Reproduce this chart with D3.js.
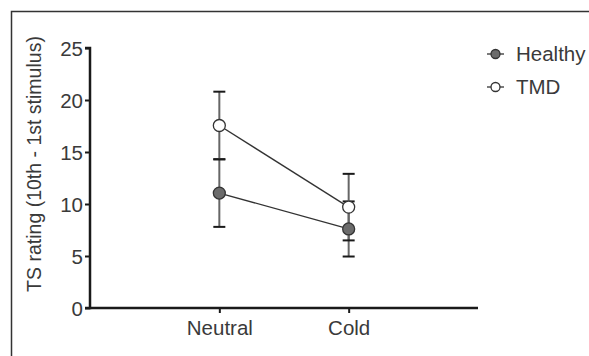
<!DOCTYPE html>
<html>
<head>
<meta charset="utf-8">
<script src="https://cdn.jsdelivr.net/npm/d3@7"></script>
<style>
  body { margin: 0; background: #fff; }
  text { font-family: "Liberation Sans", Arial, sans-serif; fill: #3a3a3a; }
</style>
</head>
<body>
<svg width="589" height="356"></svg>
<script>
var conditions = ["Neutral", "Cold"];
var groups = ["Healthy", "TMD"];
var healthyMean = [11.05, 7.6];
var healthyErr = [3.25, 2.65];
var tmdMean = [17.55, 9.7];
var tmdErr = [3.25, 3.2];
var yTicks = [0, 5, 10, 15, 20, 25];

var svg = d3.select("svg"),
    width = +svg.attr("width"),
    height = +svg.attr("height");

var series = [
  { name: groups[0], mean: healthyMean, err: healthyErr, fill: "#6b6b6b" },
  { name: groups[1], mean: tmdMean, err: tmdErr, fill: "#fff" }
];

// frame, only top and left edges show in the crop
svg.append("path")
    .attr("d", "M11.5," + height + "V11.5H" + width)
    .attr("fill", "none")
    .attr("stroke", "#333")
    .attr("stroke-width", 1.5);

var x = d3.scalePoint()
    .domain(conditions)
    .range([90, 478])
    .padding(1);

var y = d3.scaleLinear()
    .domain([0, 25])
    .range([308, 48]);

var yAxis = svg.append("g")
    .attr("transform", "translate(90,0)")
    .call(d3.axisLeft(y).tickValues(yTicks).tickSize(5).tickPadding(2));

var xAxis = svg.append("g")
    .attr("transform", "translate(0,308)")
    .call(d3.axisBottom(x).tickSize(5).tickPadding(7));

[xAxis, yAxis].forEach(function(a) {
  a.select(".domain").attr("stroke", "#1a1a1a").attr("stroke-width", 2.5);
  a.selectAll(".tick line").attr("stroke", "#1a1a1a").attr("stroke-width", 2);
  a.selectAll("text")
      .attr("fill", "#3a3a3a")
      .style("font-size", "20.5px")
      .style("font-family", "\"Liberation Sans\", Arial, sans-serif");
});
xAxis.select(".domain").attr("d", "M90,0H478");
yAxis.select(".domain").attr("d", "M-5," + y(25) + "H0V" + y(0) + "H-5");
yAxis.selectAll(".tick text").attr("dy", "0.36em");

svg.append("text")
    .attr("transform", "translate(41," + 164 + ") rotate(-90)")
    .attr("text-anchor", "middle")
    .style("font-size", "19.5px")
    .text("TS rating (10th - 1st stimulus)");

// error bars first, then lines, then markers
series.forEach(function(s) {
  var g = svg.append("g");
  conditions.forEach(function(c, i) {
    var cx = x(c), lo = y(s.mean[i] - s.err[i]), hi = y(s.mean[i] + s.err[i]);
    g.append("line")
        .attr("x1", cx).attr("x2", cx)
        .attr("y1", lo).attr("y2", hi)
        .attr("stroke", "#666").attr("stroke-width", 2);
    [lo, hi].forEach(function(v) {
      g.append("line")
          .attr("x1", cx - 6).attr("x2", cx + 6)
          .attr("y1", v).attr("y2", v)
          .attr("stroke", "#1a1a1a").attr("stroke-width", 2);
    });
  });
});

var line = d3.line()
    .x(function(d, i) { return x(conditions[i]); })
    .y(function(d) { return y(d); });

series.forEach(function(s) {
  svg.append("path")
      .datum(s.mean)
      .attr("d", line)
      .attr("fill", "none")
      .attr("stroke", "#333")
      .attr("stroke-width", 1.3);
});

series.forEach(function(s) {
  svg.append("g").selectAll("circle")
      .data(s.mean)
      .enter().append("circle")
      .attr("cx", function(d, i) { return x(conditions[i]); })
      .attr("cy", function(d) { return y(d); })
      .attr("r", 6)
      .attr("fill", s.fill)
      .attr("stroke", "#333")
      .attr("stroke-width", 1.3);
});

// legend
var legend = svg.append("g").attr("transform", "translate(487,54)");
var item = legend.selectAll("g")
    .data(series)
    .enter().append("g")
    .attr("transform", function(d, i) { return "translate(0," + (i * 33) + ")"; });

item.append("line")
    .attr("x1", 0).attr("x2", 17)
    .attr("stroke", "#333").attr("stroke-width", 1.3);
item.append("circle")
    .attr("cx", 8.5).attr("r", 4.5)
    .attr("fill", function(d) { return d.fill; })
    .attr("stroke", "#333").attr("stroke-width", 1.3);
item.append("text")
    .attr("x", 29)
    .attr("dy", "0.36em")
    .style("font-size", "20.5px")
    .text(function(d) { return d.name; });
</script>
</body>
</html>
